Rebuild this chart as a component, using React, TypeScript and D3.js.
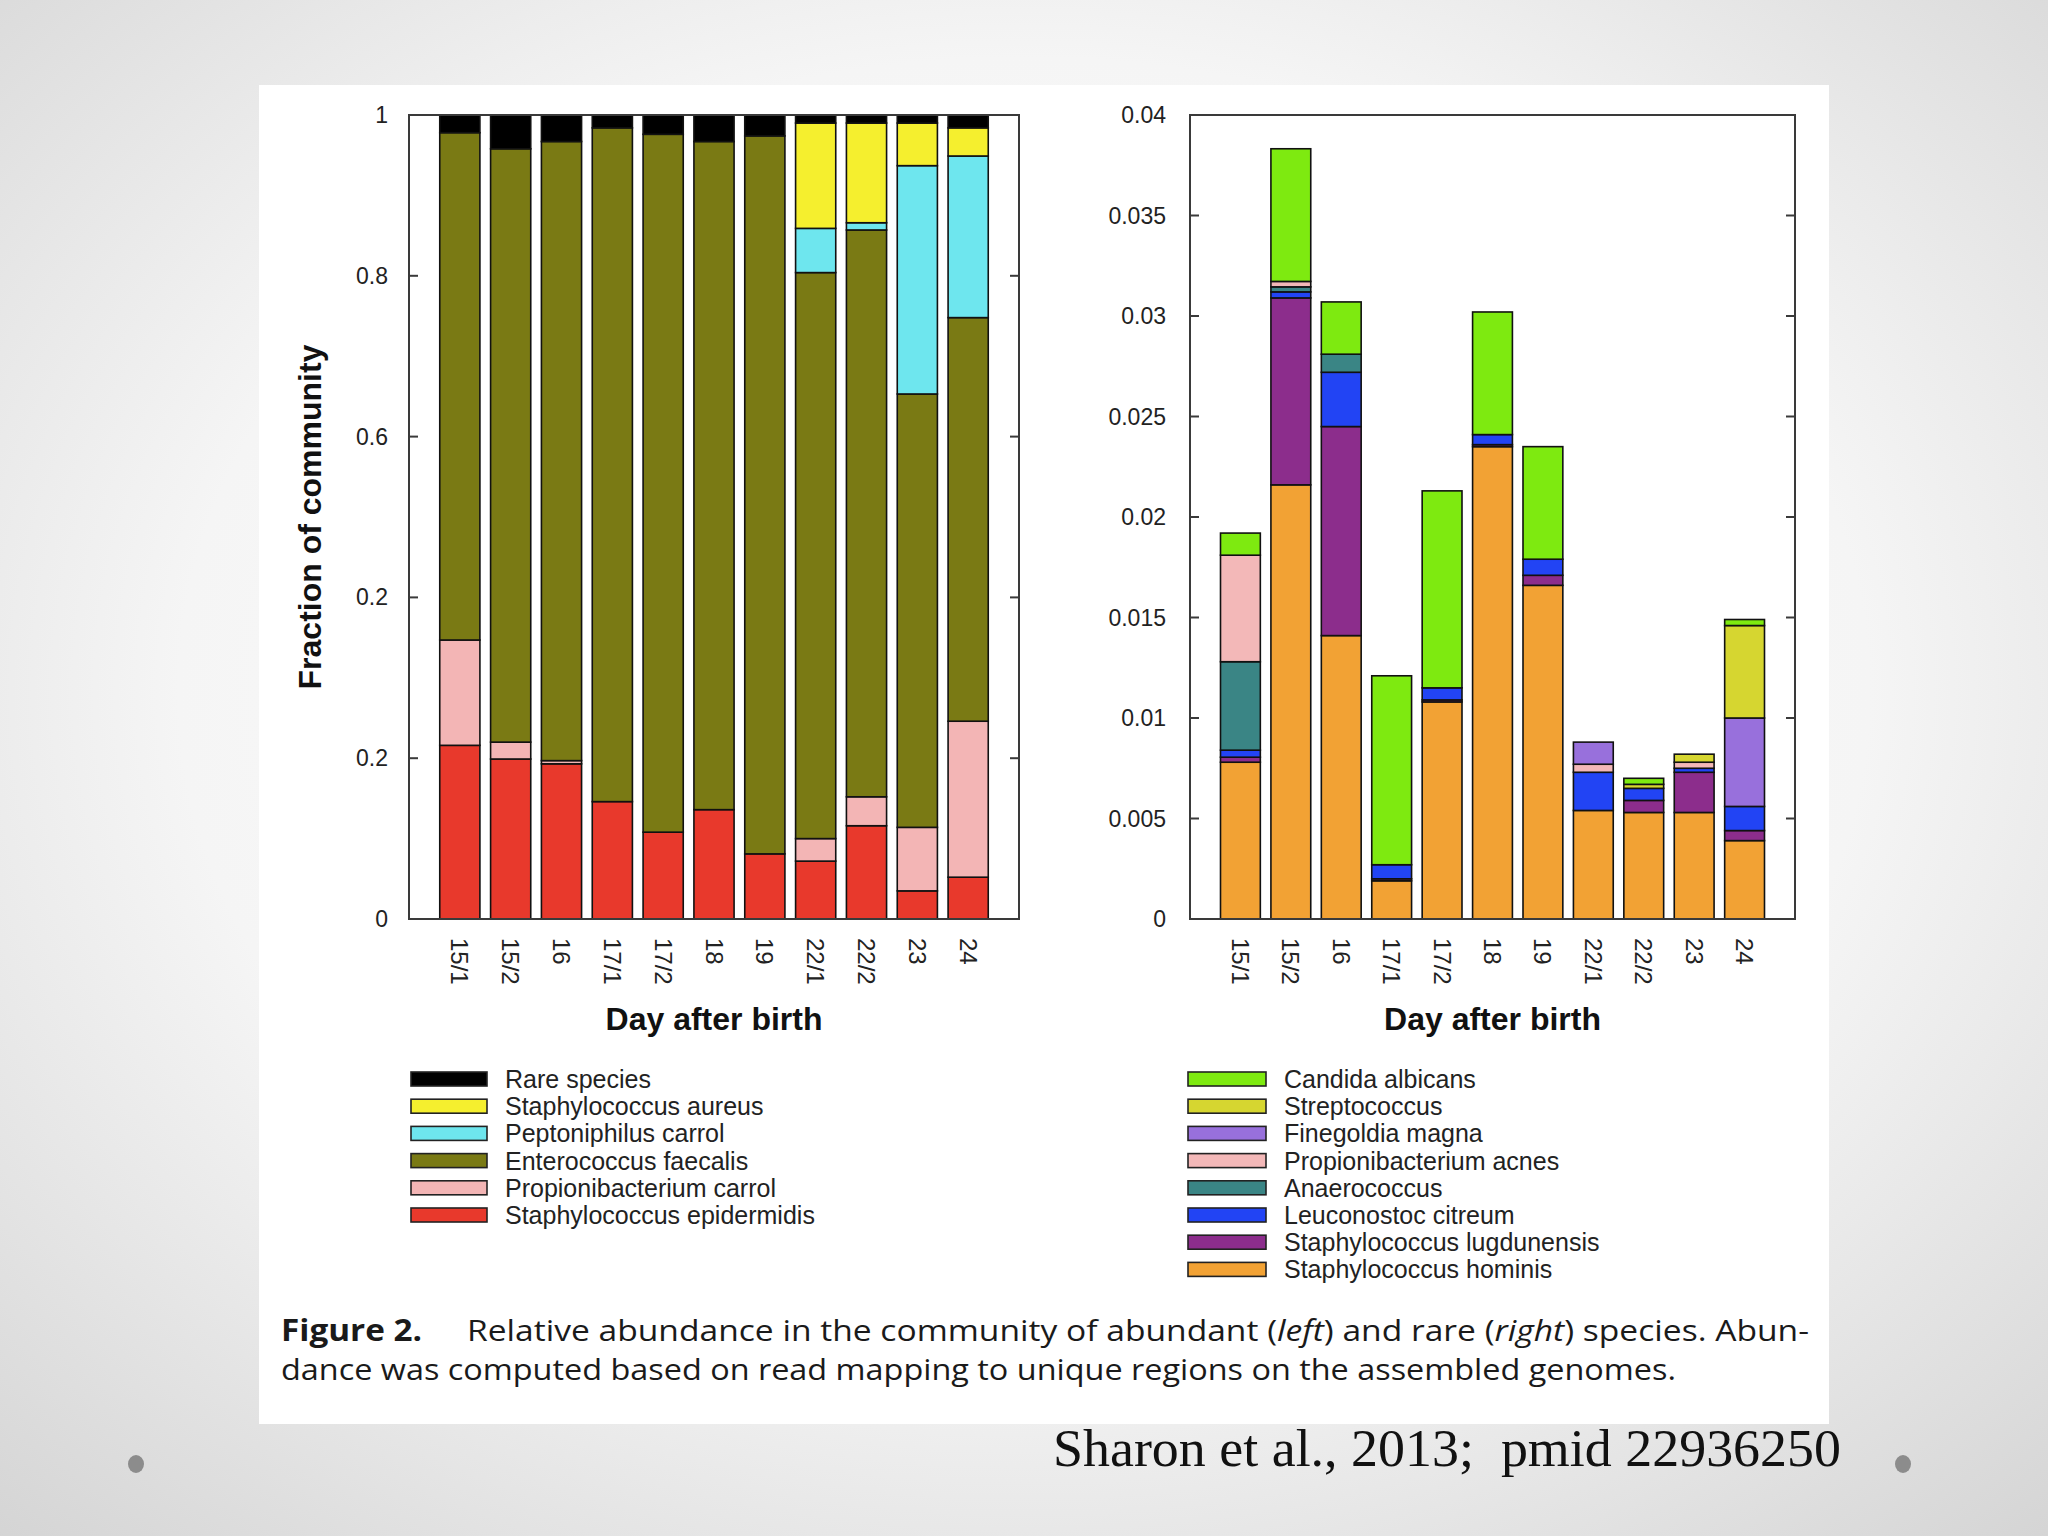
import React from 'react';
import * as d3 from 'd3';

const days = ['15/1', '15/2', '16', '17/1', '17/2', '18', '19', '22/1', '22/2', '23', '24'];

// left panel: abundant species (fraction of community), bottom -> top
const staphEpidermidis = [0.216, 0.199, 0.193, 0.146, 0.108, 0.136, 0.081, 0.072, 0.116, 0.035, 0.052];
const propCarrol = [0.131, 0.021, 0.004, 0, 0, 0, 0, 0.028, 0.036, 0.079, 0.194];
const entFaecalis = [0.631, 0.738, 0.77, 0.838, 0.868, 0.831, 0.893, 0.704, 0.705, 0.539, 0.502];
const peptCarrol = [0, 0, 0, 0, 0, 0, 0, 0.055, 0.009, 0.284, 0.201];
const staphAureus = [0, 0, 0, 0, 0, 0, 0, 0.131, 0.124, 0.053, 0.035];
const rareSpecies = [0.022, 0.042, 0.033, 0.016, 0.024, 0.033, 0.026, 0.01, 0.01, 0.01, 0.016];

// right panel: rare species, bottom -> top
const staphHominis = [0.0078, 0.0216, 0.0141, 0.0019, 0.0108, 0.0235, 0.0166, 0.0054, 0.0053, 0.0053, 0.0039];
const staphLugdunensis = [0.00025, 0.0093, 0.0104, 0.0001, 0.0001, 0.0001, 0.0005, 0, 0.0006, 0.002, 0.0005];
const leuconostoc = [0.00035, 0.0003, 0.0027, 0.0007, 0.0006, 0.0005, 0.0008, 0.0019, 0.0006, 0.0002, 0.0012];
const anaerococcus = [0.0044, 0.00025, 0.0009, 0, 0, 0, 0, 0, 0, 0, 0];
const propAcnes = [0.0053, 0.00027, 0, 0, 0, 0, 0, 0.0004, 0, 0.0003, 0];
const finegoldia = [0, 0, 0, 0, 0, 0, 0, 0.0011, 0, 0, 0.0044];
const streptococcus = [0, 0, 0, 0, 0, 0, 0, 0, 0.0002, 0.0004, 0.0046];
const candida = [0.0011, 0.0066, 0.0026, 0.0094, 0.0098, 0.0061, 0.0056, 0, 0.0003, 0, 0.0003];

const leftTicks = [0, 0.2, 0.4, 0.6, 0.8, 1];
const leftTickLabels = ['0', '0.2', '0.2', '0.6', '0.8', '1']; // as printed in the figure
const rightTicks = [0, 0.005, 0.01, 0.015, 0.02, 0.025, 0.03, 0.035, 0.04];
const rightTickLabels = ['0', '0.005', '0.01', '0.015', '0.02', '0.025', '0.03', '0.035', '0.04'];

const leftSeries = [
  { name: 'Staphylococcus epidermidis', color: '#e8392c', values: staphEpidermidis },
  { name: 'Propionibacterium carrol', color: '#f3b5b5', values: propCarrol },
  { name: 'Enterococcus faecalis', color: '#7a7a14', values: entFaecalis },
  { name: 'Peptoniphilus carrol', color: '#6ee6ee', values: peptCarrol },
  { name: 'Staphylococcus aureus', color: '#f5ef2e', values: staphAureus },
  { name: 'Rare species', color: '#000000', values: rareSpecies },
];

const rightSeries = [
  { name: 'Staphylococcus hominis', color: '#f2a234', values: staphHominis },
  { name: 'Staphylococcus lugdunensis', color: '#8c2d8c', values: staphLugdunensis },
  { name: 'Leuconostoc citreum', color: '#2244f4', values: leuconostoc },
  { name: 'Anaerococcus', color: '#3a8585', values: anaerococcus },
  { name: 'Propionibacterium acnes', color: '#f3b8b8', values: propAcnes },
  { name: 'Finegoldia magna', color: '#9870dc', values: finegoldia },
  { name: 'Streptococcus', color: '#d6d630', values: streptococcus },
  { name: 'Candida albicans', color: '#7eea10', values: candida },
];

const FONT = '"Liberation Sans", Arial, Helvetica, sans-serif';
const TOP = 115;
const BOTTOM = 919;

type Series = { name: string; color: string; values: number[] };

function StackPanel({
  series, left, right, domainMax, ticks, tickLabels, labelX, yTitle,
}: {
  series: Series[]; left: number; right: number; domainMax: number;
  ticks: number[]; tickLabels: string[]; labelX: number; yTitle?: string;
}) {
  const x = d3.scalePoint<string>().domain(days).range([left, right]).padding(1);
  const y = d3.scaleLinear().domain([0, domainMax]).range([BOTTOM, TOP]);
  const bw = x.step() * 0.79;
  const rows = days.map((d, i) => {
    const r: Record<string, number> = {};
    series.forEach((s) => (r[s.name] = s.values[i]));
    return r;
  });
  const stacked = d3.stack<Record<string, number>>().keys(series.map((s) => s.name))(rows);

  return (
    <g fontFamily={FONT}>
      {stacked.map((layer, li) => (
        <g key={layer.key}>
          {layer.map((seg, i) =>
            seg[1] - seg[0] > 0 ? (
              <rect
                key={i}
                x={x(days[i])! - bw / 2}
                y={y(seg[1])}
                width={bw}
                height={y(seg[0]) - y(seg[1])}
                fill={series[li].color}
                stroke="#111"
                strokeWidth={1.6}
              />
            ) : null
          )}
        </g>
      ))}
      <rect x={left} y={TOP} width={right - left} height={BOTTOM - TOP} fill="none" stroke="#3a3a3a" strokeWidth={2} />
      {ticks.map((t, i) => (
        <g key={t}>
          <line x1={left} x2={left + 9} y1={y(t)} y2={y(t)} stroke="#3a3a3a" strokeWidth={2} />
          <line x1={right} x2={right - 9} y1={y(t)} y2={y(t)} stroke="#3a3a3a" strokeWidth={2} />
          <text x={labelX} y={y(t)} textAnchor="end" dominantBaseline="central" fontSize={23} fill="#222">
            {tickLabels[i]}
          </text>
        </g>
      ))}
      {days.map((d) => (
        <text
          key={d}
          transform={`translate(${x(d)},${BOTTOM + 19}) rotate(90)`}
          dominantBaseline="central"
          fontSize={24}
          fill="#222"
        >
          {d}
        </text>
      ))}
      <text x={(left + right) / 2} y={1030} textAnchor="middle" fontSize={32} fontWeight="bold" fill="#111">
        Day after birth
      </text>
      {yTitle && (
        <text
          transform={`translate(310,${(TOP + BOTTOM) / 2}) rotate(-90)`}
          textAnchor="middle"
          dominantBaseline="central"
          fontSize={32}
          fontWeight="bold"
          fill="#111"
        >
          {yTitle}
        </text>
      )}
    </g>
  );
}

function Legend({ series, x, textX }: { series: Series[]; x: number; textX: number }) {
  const items = [...series].reverse();
  const y = d3.scalePoint<string>().domain(items.map((s) => s.name)).range([1079, 1079 + 27.2 * (items.length - 1)]);
  return (
    <g fontFamily={FONT}>
      {items.map((s) => (
        <g key={s.name}>
          <rect x={x} y={y(s.name)! - 7} width={textX - x - 18} height={14} fill={s.color} stroke="#222" strokeWidth={1.6} />
          <text x={textX} y={y(s.name)} dominantBaseline="central" fontSize={25} fill="#222">
            {s.name}
          </text>
        </g>
      ))}
    </g>
  );
}

export default function App() {
  return (
    <svg width={2048} height={1536} style={{ position: 'absolute', left: 0, top: 0 }}>
      <defs>
        <radialGradient id="bg" cx="50%" cy="45%" r="75%">
          <stop offset="0" stopColor="#ffffff" />
          <stop offset="0.55" stopColor="#f5f5f5" />
          <stop offset="1" stopColor="#d4d4d4" />
        </radialGradient>
      </defs>
      <rect width={2048} height={1536} fill="url(#bg)" />
      <rect x={259} y={85} width={1570} height={1339} fill="#ffffff" />

      <StackPanel
        series={leftSeries}
        left={409}
        right={1019}
        domainMax={1}
        ticks={leftTicks}
        tickLabels={leftTickLabels}
        labelX={388}
        yTitle="Fraction of community"
      />
      <StackPanel
        series={rightSeries}
        left={1190}
        right={1795}
        domainMax={0.04}
        ticks={rightTicks}
        tickLabels={rightTickLabels}
        labelX={1166}
      />

      <Legend series={leftSeries} x={411} textX={505} />
      <Legend series={rightSeries} x={1188} textX={1284} />

      <g fontFamily='"Open Sans", "Noto Sans", sans-serif' fontSize={30} fill="#1a1a1a">
        <text x={281} y={1341} fontWeight="bold" textLength={141} lengthAdjust="spacingAndGlyphs">
          Figure 2.
        </text>
        <text x={467} y={1341} textLength={1342} lengthAdjust="spacingAndGlyphs">
          Relative abundance in the community of abundant (<tspan fontStyle="italic">left</tspan>) and rare (
          <tspan fontStyle="italic">right</tspan>) species. Abun-
        </text>
        <text x={281} y={1380} textLength={1395} lengthAdjust="spacingAndGlyphs">
          dance was computed based on read mapping to unique regions on the assembled genomes.
        </text>
      </g>

      <text
        x={1053}
        y={1466}
        fontFamily='"Liberation Serif", "DejaVu Serif", serif'
        fontSize={52}
        fill="#111"
        textLength={788}
        lengthAdjust="spacingAndGlyphs"
        style={{ whiteSpace: 'pre' }}
      >
        {'Sharon et al., 2013;  pmid 22936250'}
      </text>

      <ellipse cx={136} cy={1464} rx={8} ry={9} fill="#8c8c8c" />
      <ellipse cx={1903} cy={1464} rx={8} ry={9} fill="#8c8c8c" />
    </svg>
  );
}
